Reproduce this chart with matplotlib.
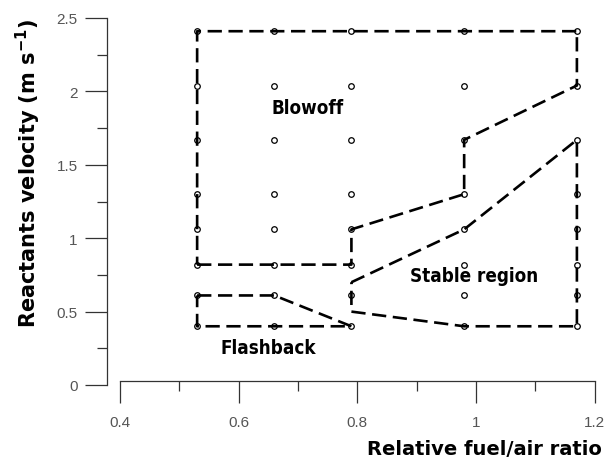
import matplotlib
matplotlib.use("Agg")
import matplotlib.pyplot as plt
from matplotlib.ticker import MultipleLocator

# grid of test conditions (relative fuel/air ratio, velocity)
phi_levels = [0.53, 0.66, 0.79, 0.98, 1.17]
vel_levels = [0.40, 0.61, 0.82, 1.06, 1.30, 1.67, 2.04, 2.41]

# region boundaries
blowoff_x = [0.53, 0.79, 0.79, 0.98, 0.98, 1.17, 1.17, 0.53, 0.53]
blowoff_y = [0.82, 0.82, 1.06, 1.30, 1.67, 2.04, 2.41, 2.41, 0.82]

stable_x = [0.79, 0.98, 1.17, 1.17, 0.98, 0.79, 0.79]
stable_y = [0.70, 1.06, 1.67, 0.40, 0.40, 0.50, 0.70]

flash_x = [0.53, 0.66, 0.79, 0.53, 0.53]
flash_y = [0.61, 0.61, 0.40, 0.40, 0.61]

labels = ["Blowoff", "Stable region", "Flashback"]
label_pos = [(0.716, 1.89), (0.997, 0.745), (0.650, 0.255)]

fig = plt.figure(figsize=(6.04, 4.64), dpi=100)
ax = fig.add_axes([106.7 / 604, 78 / 464, (594.7 - 106.7) / 604, (386 - 19) / 464])

gx = [x for x in phi_levels for _ in vel_levels]
gy = [y for _ in phi_levels for y in vel_levels]
ax.plot(gx, gy, linestyle="none", marker="o", ms=4, mfc="white", mec="black",
        mew=0.9, zorder=2, clip_on=False)

dash = (0, (5.4, 2.5))
for xs, ys in [(blowoff_x, blowoff_y), (stable_x, stable_y), (flash_x, flash_y)]:
    ax.plot(xs, ys, color="black", lw=1.9, linestyle=dash, zorder=3, clip_on=False)

for txt, (x, y) in zip(labels, label_pos):
    ax.text(x, y, txt, ha="center", va="center", fontsize=13.5, fontweight="bold",
            family="DejaVu Sans", fontstretch="condensed")

ax.set_xlim(0.3776, 1.2)
ax.set_ylim(0, 2.5)
for s in ["top", "right"]:
    ax.spines[s].set_visible(False)
ax.spines["left"].set_bounds(0, 2.5)
ax.spines["bottom"].set_bounds(0.4, 1.2)
ax.spines["bottom"].set_position(("data", 0.027))
for s in ["left", "bottom"]:
    ax.spines[s].set_color("#333333")
    ax.spines[s].set_linewidth(0.9)

ax.xaxis.set_minor_locator(MultipleLocator(0.1))
ax.yaxis.set_minor_locator(MultipleLocator(0.25))
ax.set_xticks([0.4, 0.6, 0.8, 1.0, 1.2])
ax.set_xticklabels(["0.4", "0.6", "0.8", "1", "1.2"])
ax.set_yticks([0, 0.5, 1.0, 1.5, 2.0, 2.5])
ax.set_yticklabels(["0", "0.5", "1", "1.5", "2", "2.5"])

ax.tick_params(which="major", length=15.5, width=0.9, color="#333333")
ax.tick_params(which="minor", length=7.5, width=0.9, color="#333333")
ax.tick_params(axis="y", which="major", pad=5.5)
ax.tick_params(axis="x", which="major", pad=9)
for lab in ax.get_xticklabels() + ax.get_yticklabels():
    lab.set_family(["Liberation Sans", "DejaVu Sans"])
    lab.set_fontsize(11)
    lab.set_color("#555555")

fig.text(484 / 604, 1 - 450 / 464, "Relative fuel/air ratio", ha="center", va="center",
         fontsize=14, fontweight="bold", family="DejaVu Sans")
fig.text(28 / 604, 1 - 174 / 464, r"Reactants velocity (m s$^{\mathbf{-1}}$)", ha="center",
         va="center", rotation=90, fontsize=15, fontweight="bold", family="DejaVu Sans")

fig.savefig("out.png", dpi=100)
